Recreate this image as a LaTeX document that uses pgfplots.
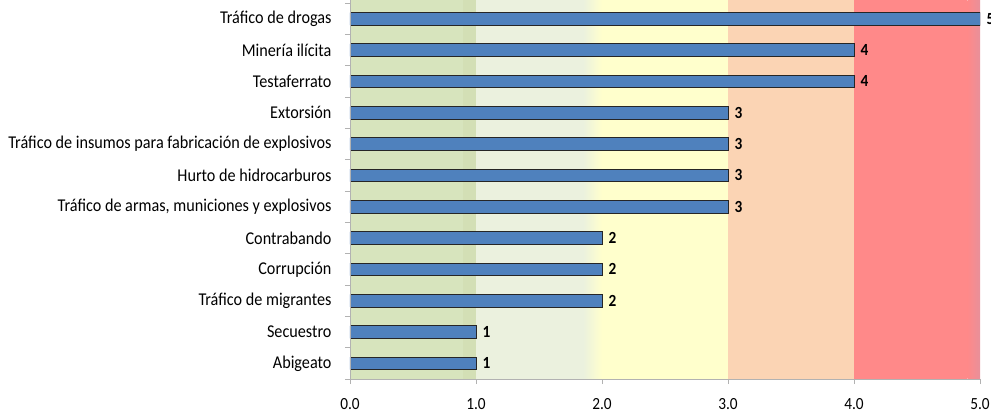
\documentclass[border=0pt]{standalone}
\usepackage{pgfplots}
\pgfplotsset{compat=1.18}
\usepackage{fontspec}
\setmainfont{Carlito}[FakeStretch=0.9]

\definecolor{bandA}{RGB}{215,228,189}
\definecolor{bandAd}{RGB}{211,223,181}
\definecolor{bandB}{RGB}{235,241,222}
\definecolor{bandC}{RGB}{255,255,204}
\definecolor{bandD}{RGB}{251,212,180}
\definecolor{bandE}{RGB}{255,137,137}
\definecolor{bandEd}{RGB}{232,144,154}
\definecolor{barblue}{RGB}{79,129,189}

\begin{document}
\begin{tikzpicture}
\begin{axis}[
    name=ax, at={(0,0)}, anchor=south west,
    scale only axis, width=630bp, height=379bp,
    xmin=0, xmax=5, ymin=-0.5, ymax=11.6,
    axis x line*=bottom, axis y line*=left,
    axis line style={draw=gray!60, -},
    axis on top,
    tick align=outside, major tick length=5bp,
    tick style={draw=gray!60, line width=0.8bp},
    /pgf/number format/assume math mode=true,
    xtick={0,1,2,3,4,5},
    xticklabel style={font=\fontsize{17bp}{17bp}\selectfont, yshift=-11bp,
        /pgf/number format/.cd, fixed, fixed zerofill, precision=1},
    ytick={-0.5,0.5,...,11.5}, yticklabels={},
    extra y ticks={0,1,2,3,4,5,6,7,8,9,10,11},
    extra y tick labels={Abigeato, Secuestro, Tráfico de migrantes,
        Corrupción, Contrabando, {Tráfico de armas, municiones y explosivos},
        Hurto de hidrocarburos, Tráfico de insumos para fabricación de explosivos,
        Extorsión, Testaferrato, Minería ilícita, Tráfico de drogas},
    extra y tick style={tick style={draw=none},
        yticklabel style={font=\fontsize{18bp}{18bp}\selectfont, xshift=-10bp}},
]
% background bands
\addplot[draw=none, fill=bandA, forget plot] coordinates {(0,-0.5) (0,11.6) (0.9,11.6) (0.9,-0.5)} -- cycle;
\addplot[draw=none, fill=bandAd, forget plot] coordinates {(0.9,-0.5) (0.9,11.6) (1,11.6) (1,-0.5)} -- cycle;
\addplot[draw=none, fill=bandB, forget plot] coordinates {(1,-0.5) (1,11.6) (1.85,11.6) (1.85,-0.5)} -- cycle;
\addplot[draw=none, left color=bandB, right color=bandC, forget plot] coordinates {(1.85,-0.5) (1.85,11.6) (2,11.6) (2,-0.5)} -- cycle;
\addplot[draw=none, fill=bandC, forget plot] coordinates {(2,-0.5) (2,11.6) (3,11.6) (3,-0.5)} -- cycle;
\addplot[draw=none, fill=bandD, forget plot] coordinates {(3,-0.5) (3,11.6) (4,11.6) (4,-0.5)} -- cycle;
\addplot[draw=none, fill=bandE, forget plot] coordinates {(4,-0.5) (4,11.6) (4.9,11.6) (4.9,-0.5)} -- cycle;
\addplot[draw=none, left color=bandE, right color=bandEd, forget plot] coordinates {(4.9,-0.5) (4.9,11.6) (5,11.6) (5,-0.5)} -- cycle;
% bars
\addplot[xbar, bar width=12.5bp, fill=barblue, draw=black!85, line width=0.8bp,
    point meta=x,
    nodes near coords={\pgfmathprintnumber{\pgfplotspointmeta}},
    nodes near coords style={font=\bfseries\fontsize{17bp}{17bp}\selectfont,
        anchor=west, xshift=3bp, text=black}]
    coordinates {(1,0) (1,1) (2,2) (2,3) (2,4) (3,5) (3,6) (3,7) (3,8) (4,9) (4,10) (5,11)};
\end{axis}
\pgfresetboundingbox
\path ([xshift=-350bp,yshift=-36bp]ax.south west) rectangle ([xshift=11bp]ax.north east);
\end{tikzpicture}
\end{document}
